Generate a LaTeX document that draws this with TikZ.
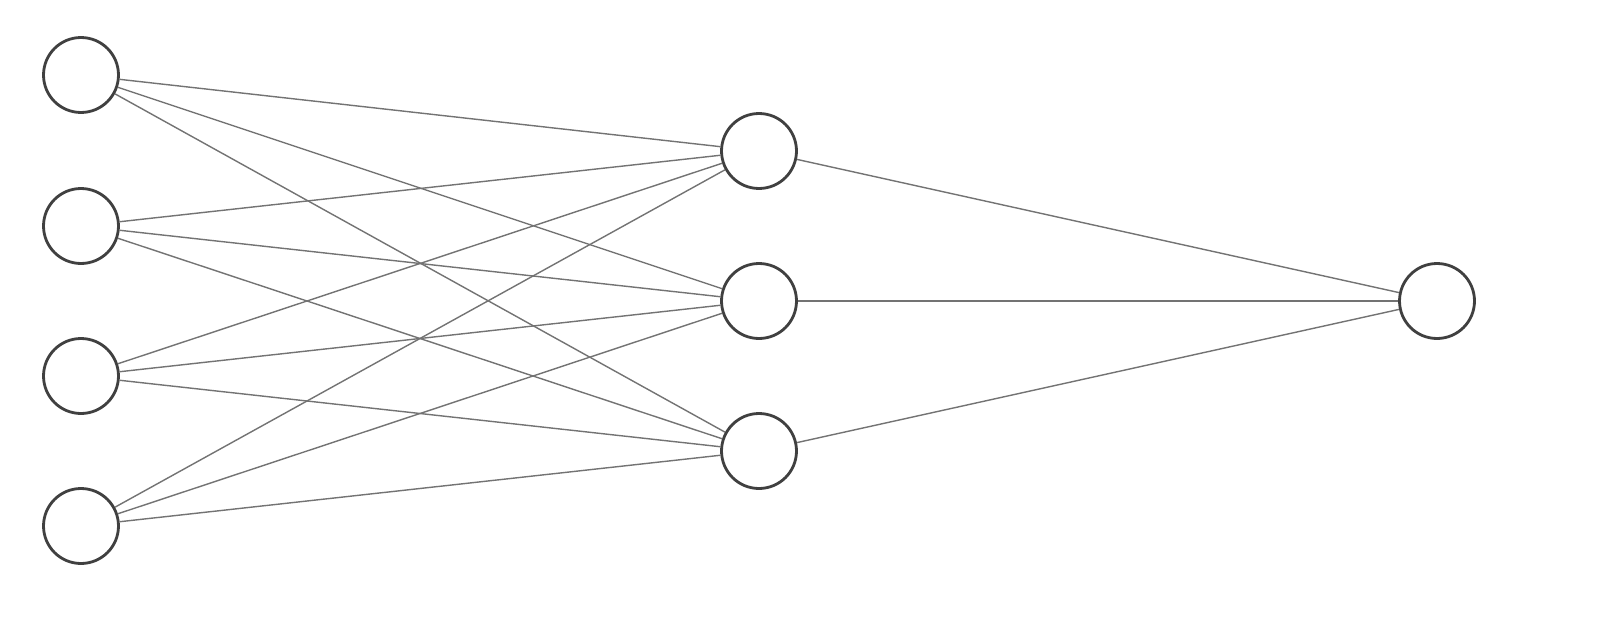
\documentclass[tikz,border=0pt]{standalone}
\usepackage{tikz}
\usetikzlibrary{positioning}

\begin{document}
\begin{tikzpicture}[x=0.02cm, y=0.02cm]

        \useasboundingbox (0,0) rectangle (1610,620);

        \tikzset{
            neuron/.style={draw=black!75, circle, line width=1.6pt, minimum size=1.5cm, inner sep=0pt, fill=white},
            link/.style={draw=black!55, line width=0.8pt}
        }

        % Input layer
        \node[neuron] (x1) at (81,545) {};
        \node[neuron] (x2) at (81,394) {};
        \node[neuron] (x3) at (81,244) {};
        \node[neuron] (x4) at (81,94) {};

        % Hidden layer
        \node[neuron] (h1) at (759,469) {};
        \node[neuron] (h2) at (759,319) {};
        \node[neuron] (h3) at (759,169) {};

        % Output
        \node[neuron] (y) at (1437,319) {};

        % Connections
        \foreach \i in {1,...,4}
            \foreach \j in {1,2,3}
                \draw[link] (x\i) -- (h\j);

        \foreach \j in {1,2,3}
            \draw[link] (h\j) -- (y);
    \end{tikzpicture}
\end{document}
